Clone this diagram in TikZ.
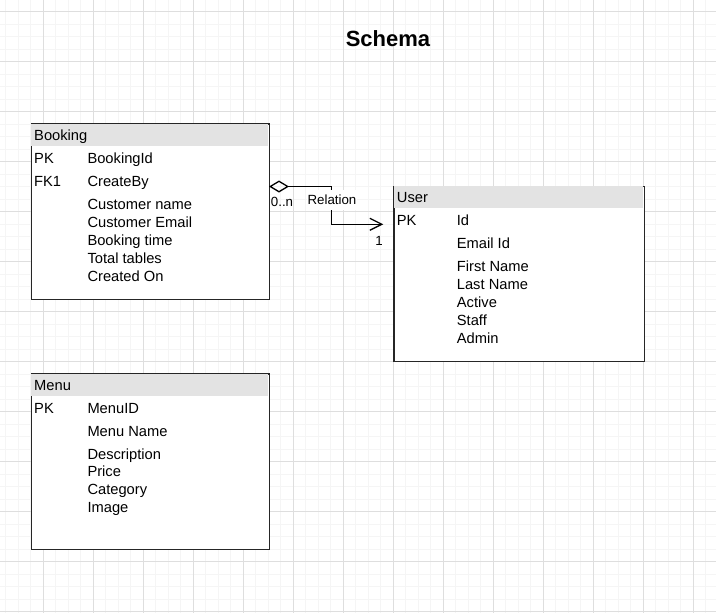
\documentclass[tikz,border=0pt]{standalone}
\usepackage{fontspec}
\setmainfont{Liberation Sans}
\usetikzlibrary{positioning,arrows.meta}

\definecolor{minorline}{HTML}{F5F5F5}
\definecolor{majorline}{HTML}{DEDEDE}
\definecolor{headgray}{HTML}{E3E3E3}

\tikzset{
  entity/.style={draw=black!85, line width=1.2pt, fill=white, anchor=north west, inner sep=0pt},
  entityhead/.style={fill=headgray, anchor=north west, inner sep=0pt, minimum height=22.4pt},
  field/.style={anchor=base west, inner sep=0pt, font=\fontsize{14.7}{18}\selectfont},
  rellabel/.style={inner sep=0.5pt, font=\fontsize{13.3}{16}\selectfont},
  relation/.style={line width=1.3pt, {Diamond[open, length=20pt, width=12pt]}-{Straight Barb[length=12pt, width=12pt]}}
}

\begin{document}
\begin{tikzpicture}[x=1pt, y=-1pt]
    \fill[white] (0,0) rectangle (716,613);
    \useasboundingbox (0,0) rectangle (716,613);

    % grid
    \foreach \x in {5.5,18,...,716} \draw[minorline, line width=1pt] (\x,0) -- (\x,613);
    \foreach \y in {-1,11.5,...,613} \draw[minorline, line width=1pt] (0,\y) -- (716,\y);
    \foreach \x in {43,93,...,716} \draw[majorline, line width=1pt] (\x,0) -- (\x,613);
    \foreach \y in {11.5,61.5,...,613} \draw[majorline, line width=1pt] (0,\y) -- (716,\y);

    \node[font=\bfseries\fontsize{22}{26}\selectfont] (title) at (388,39) {Schema};

    % Booking
    \node[entity, minimum width=238pt, minimum height=175.7pt] (booking) at (31,123.3) {};
    \node[entityhead, minimum width=237pt] (bookinghead) at (booking.north west) {};
    \node[field] (bookingname) at (34,140) {Booking};
    \node[field] (bookingpk) at (34,163.3) {PK};
    \node[field] (bookingid) at (87.3,163.3) {BookingId};
    \node[field] (bookingfk) at (34,186.3) {FK1};
    \node[field] (createby) at (87.3,186.3) {CreateBy};
    \node[field] (custname) at (87.3,209) {Customer name};
    \node[field] (custmail) at (87.3,227) {Customer Email};
    \node[field] (booktime) at (87.3,245) {Booking time};
    \node[field] (tables) at (87.3,263) {Total tables};
    \node[field] (createdon) at (87.3,281) {Created On};

    % User
    \node[entity, minimum width=250.7pt, minimum height=175.3pt] (user) at (393.3,185.7) {};
    \node[entityhead, minimum width=249.7pt] (userhead) at (user.north west) {};
    \node[field] (username) at (396.7,202.3) {User};
    \node[field] (userpk) at (396.7,225) {PK};
    \node[field] (userid) at (456.7,225) {Id};
    \node[field] (emailid) at (456.7,248) {Email Id};
    \node[field] (firstname) at (456.7,271) {First Name};
    \node[field] (lastname) at (456.7,289) {Last Name};
    \node[field] (active) at (456.7,307) {Active};
    \node[field] (staff) at (456.7,325) {Staff};
    \node[field] (admin) at (456.7,343) {Admin};

    % Menu
    \node[entity, minimum width=238pt, minimum height=175.7pt] (menu) at (31,373.3) {};
    \node[entityhead, minimum width=237pt] (menuhead) at (menu.north west) {};
    \node[field] (menuname) at (34,390) {Menu};
    \node[field] (menupk) at (34,413.3) {PK};
    \node[field] (menuid) at (87.3,413.3) {MenuID};
    \node[field] (menutitle) at (87.3,436) {Menu Name};
    \node[field] (descr) at (87.3,459) {Description};
    \node[field] (price) at (87.3,476.7) {Price};
    \node[field] (category) at (87.3,494.7) {Category};
    \node[field] (image) at (87.3,512.7) {Image};

    % relation Booking -> User
    \coordinate (relfrom) at (269,186.5);
    \coordinate (relto) at (383.3,224.3);
    \draw[relation] (relfrom) -- ++(62.7,0) |- (relto);
    \node[rellabel, fill=white, inner ysep=5pt] (rel) at (332,200) {Relation};
    \node[rellabel] (many) at (282,202) {0..n};
    \node[rellabel] (one) at (379,241) {1};
\end{tikzpicture}
\end{document}
